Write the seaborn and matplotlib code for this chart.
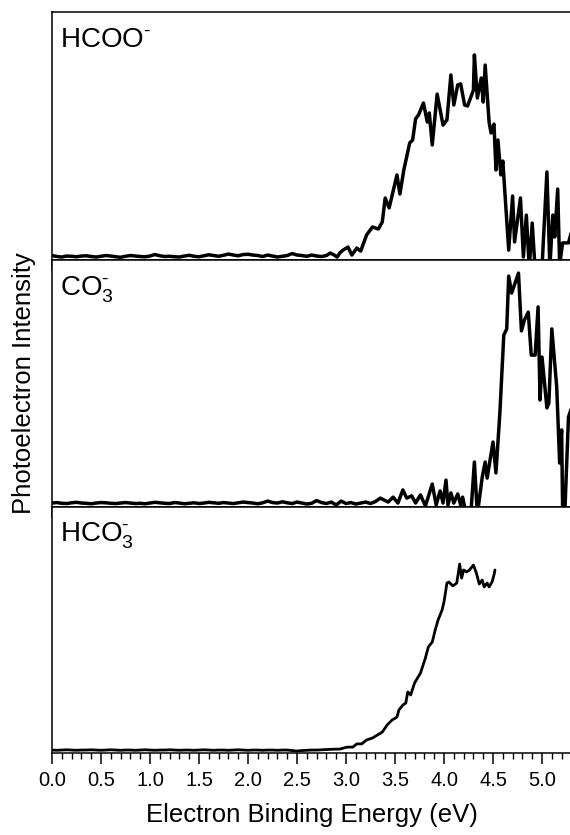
import matplotlib
matplotlib.use("Agg")
import matplotlib.pyplot as plt
from matplotlib.ticker import MultipleLocator
import seaborn as sns
import pandas as pd

# ---------------- data (eV, normalised intensity) ----------------
base_x = [0.00, 0.05, 0.10, 0.15, 0.20, 0.25, 0.30, 0.35, 0.40, 0.45,
          0.50, 0.55, 0.60, 0.65, 0.70, 0.75, 0.80, 0.85, 0.90, 0.95,
          1.00, 1.05, 1.10, 1.15, 1.20, 1.25, 1.30, 1.35, 1.40, 1.45,
          1.50, 1.55, 1.60, 1.65, 1.70, 1.75, 1.80, 1.85, 1.90, 1.95,
          2.00, 2.05, 2.10, 2.15, 2.20, 2.25, 2.30, 2.35, 2.40, 2.45,
          2.50, 2.55, 2.60, 2.65, 2.70, 2.75, 2.80]

hcoo_base = [0.018, 0.014, 0.012, 0.016, 0.015, 0.013, 0.016, 0.017, 0.014, 0.012,
             0.015, 0.018, 0.016, 0.013, 0.011, 0.015, 0.018, 0.016, 0.014, 0.013,
             0.016, 0.022, 0.017, 0.014, 0.015, 0.013, 0.012, 0.016, 0.019, 0.015,
             0.013, 0.017, 0.021, 0.018, 0.015, 0.019, 0.024, 0.020, 0.017, 0.022,
             0.023, 0.020, 0.018, 0.014, 0.020, 0.016, 0.012, 0.015, 0.018, 0.026,
             0.020, 0.018, 0.015, 0.020, 0.016, 0.014, 0.018]
hcoo_tail_x = [2.84, 2.88, 2.91, 2.94, 2.97, 3.02, 3.06, 3.11, 3.15, 3.21,
               3.27, 3.33, 3.37, 3.40, 3.44, 3.52, 3.55, 3.59, 3.65, 3.68,
               3.71, 3.74, 3.79, 3.83, 3.85, 3.88, 3.93, 3.99, 4.03, 4.07,
               4.10, 4.14, 4.17, 4.21, 4.24, 4.30, 4.31, 4.34, 4.38, 4.40,
               4.42, 4.46, 4.48, 4.51, 4.53, 4.55, 4.58, 4.60, 4.66, 4.70,
               4.72, 4.78, 4.81, 4.84, 4.87, 4.90, 4.93, 5.00, 5.05, 5.08,
               5.11, 5.13, 5.16, 5.18, 5.21, 5.27, 5.30]
hcoo_tail_y = [0.028, 0.020, 0.012, 0.030, 0.040, 0.052, 0.020, 0.048, 0.036, 0.101,
               0.133, 0.125, 0.153, 0.250, 0.210, 0.343, 0.266, 0.363, 0.472, 0.484,
               0.569, 0.585, 0.633, 0.556, 0.593, 0.464, 0.669, 0.544, 0.565, 0.746,
               0.625, 0.706, 0.710, 0.625, 0.621, 0.685, 0.827, 0.653, 0.734, 0.637,
               0.786, 0.556, 0.512, 0.548, 0.363, 0.484, 0.343, 0.399, 0.040, 0.258,
               0.073, 0.250, 0.012, 0.181, -0.03, 0.149, -0.04, -0.03, 0.355, -0.03,
               0.181, 0.093, 0.286, -0.02, 0.069, 0.069, 0.113]

co3_base = [0.016, 0.018, 0.015, 0.014, 0.017, 0.019, 0.016, 0.015, 0.013, 0.016,
            0.018, 0.017, 0.015, 0.014, 0.016, 0.018, 0.016, 0.014, 0.015, 0.013,
            0.016, 0.019, 0.017, 0.015, 0.014, 0.018, 0.016, 0.013, 0.015, 0.017,
            0.014, 0.016, 0.019, 0.017, 0.015, 0.018, 0.016, 0.014, 0.017, 0.020,
            0.018, 0.016, 0.013, 0.017, 0.024, 0.018, 0.016, 0.021, 0.017, 0.014,
            0.020, 0.016, 0.012, 0.015, 0.026, 0.018, 0.014]
co3_tail_x = [2.85, 2.90, 2.95, 3.00, 3.05, 3.10, 3.15, 3.20, 3.25, 3.30,
              3.35, 3.43, 3.48, 3.53, 3.58, 3.62, 3.67, 3.71, 3.76, 3.81,
              3.88, 3.92, 3.96, 3.99, 4.02, 4.04, 4.07, 4.10, 4.14, 4.17,
              4.19, 4.22, 4.27, 4.31, 4.34, 4.39, 4.42, 4.44, 4.50, 4.53,
              4.57, 4.61, 4.64, 4.66, 4.69, 4.76, 4.79, 4.82, 4.86, 4.89,
              4.93, 4.96, 4.98, 5.00, 5.05, 5.07, 5.10, 5.15, 5.18, 5.20,
              5.21, 5.23, 5.27, 5.30]
co3_tail_y = [0.020, 0.008, 0.024, 0.014, 0.018, 0.012, 0.016, 0.020, 0.014, 0.022,
              0.036, 0.020, 0.040, 0.016, 0.069, 0.036, 0.045, 0.016, 0.049, 0.004,
              0.093, 0.008, 0.065, 0.016, 0.109, 0.008, 0.057, 0.016, 0.053, 0.008,
              0.040, -0.02, -0.05, 0.182, -0.03, 0.121, 0.182, 0.117, 0.263, 0.138,
              0.381, 0.696, 0.721, 0.935, 0.866, 0.947, 0.713, 0.757, 0.789, 0.615,
              0.615, 0.810, 0.433, 0.607, 0.401, 0.421, 0.721, 0.486, 0.178, 0.312,
              0.004, -0.05, 0.364, 0.400]

hco3_base = [0.012, 0.011, 0.012, 0.013, 0.012, 0.011, 0.012, 0.012, 0.013, 0.012,
             0.011, 0.012, 0.013, 0.012, 0.011, 0.012, 0.012, 0.011, 0.012, 0.013,
             0.012, 0.011, 0.012, 0.012, 0.013, 0.012, 0.011, 0.012, 0.012, 0.011,
             0.012, 0.013, 0.012, 0.011, 0.012, 0.012, 0.011, 0.012, 0.013, 0.012,
             0.011, 0.012, 0.012, 0.011, 0.012, 0.012, 0.011, 0.012, 0.012, 0.010,
             0.008, 0.010, 0.011, 0.012, 0.012, 0.013, 0.014]
hco3_tail_x = [2.85, 2.94, 3.01, 3.07, 3.11, 3.16, 3.21, 3.27, 3.32, 3.37,
               3.42, 3.47, 3.52, 3.54, 3.58, 3.61, 3.63, 3.66, 3.70, 3.76,
               3.81, 3.84, 3.88, 3.91, 3.94, 3.98, 4.00, 4.03, 4.05, 4.09,
               4.13, 4.16, 4.18, 4.20, 4.23, 4.26, 4.30, 4.33, 4.36, 4.39,
               4.41, 4.44, 4.46, 4.49, 4.51, 4.52]
hco3_tail_y = [0.015, 0.016, 0.024, 0.024, 0.037, 0.037, 0.053, 0.061, 0.073, 0.085,
               0.114, 0.134, 0.146, 0.175, 0.195, 0.203, 0.248, 0.236, 0.285, 0.325,
               0.386, 0.431, 0.451, 0.500, 0.541, 0.581, 0.614, 0.691, 0.695, 0.679,
               0.691, 0.768, 0.711, 0.744, 0.736, 0.744, 0.764, 0.732, 0.687, 0.703,
               0.675, 0.691, 0.675, 0.695, 0.724, 0.744]

labels = [r"HCOO$^{\text{-}}$",
          r"CO$_{\mathregular{3}}^{\text{-}}$",
          r"HCO$_{\mathregular{3}}^{\text{-}}$"]
xticks = [0.0, 0.5, 1.0, 1.5, 2.0, 2.5, 3.0, 3.5, 4.0, 4.5, 5.0]

# ---------------- style ----------------
sns.set_theme(style="ticks")
plt.rcParams["font.family"] = ["Liberation Sans", "DejaVu Sans"]
plt.rcParams["mathtext.fontset"] = "custom"
plt.rcParams["mathtext.rm"] = "Liberation Sans"
plt.rcParams["mathtext.it"] = "Liberation Sans"
plt.rcParams["text.color"] = "black"
plt.rcParams["axes.labelcolor"] = "black"
plt.rcParams["xtick.color"] = "black"
plt.rcParams["xtick.labelcolor"] = "black"

W, H = 570, 835
fig = plt.figure(figsize=(W / 100, H / 100), dpi=100)

left_px, right_px = 52, 572
panels_px = [(12, 260), (260, 507), (507, 753)]
series = [
    (base_x + hcoo_tail_x, hcoo_base + hcoo_tail_y, 2.5),
    (base_x + co3_tail_x, co3_base + co3_tail_y, 2.5),
    (base_x + hco3_tail_x, hco3_base + hco3_tail_y, 2.0),
]

axes = []
for i, ((top, bot), (xs, ys, lw)) in enumerate(zip(panels_px, series)):
    ax = fig.add_axes([left_px / W, 1 - bot / H, (right_px - left_px) / W, (bot - top) / H])
    df = pd.DataFrame({"energy": xs, "intensity": ys})
    sns.lineplot(data=df, x="energy", y="intensity", ax=ax, color="black",
                 lw=lw, sort=False, estimator=None)
    ax.set_xlim(0, 5.306)
    ax.set_ylim(0, 1)
    ax.set_yticks([])
    ax.set_ylabel("")
    ax.set_xlabel("")
    ax.xaxis.set_major_locator(MultipleLocator(0.5))
    ax.xaxis.set_minor_locator(MultipleLocator(0.1))
    ax.tick_params(axis="x", which="major", direction="out", length=8, width=1.1,
                   color="black", labelsize=14.5, pad=5)
    ax.tick_params(axis="x", which="minor", direction="out", length=4.3, width=1.0,
                   color="black")
    for s in ax.spines.values():
        s.set_linewidth(1.1)
        s.set_color("black")
    ax.text(0.015, 0.858, labels[i], transform=ax.transAxes, ha="left",
            va="baseline", fontsize=20, color="black")
    if i < 2:
        ax.tick_params(axis="x", labelbottom=False)
    else:
        ax.set_xticks(xticks)
        ax.set_xticklabels([f"{t:.1f}" for t in xticks])
        ax.set_xlabel("Electron Binding Energy (eV)", fontsize=18.5, labelpad=9)
    ax.set_facecolor("white")
    axes.append(ax)

fig.text(24 / W, 1 - 383 / H, "Photoelectron Intensity", rotation=90,
         ha="center", va="center", fontsize=18.5)

fig.savefig("out.png", dpi=100, facecolor="white")
